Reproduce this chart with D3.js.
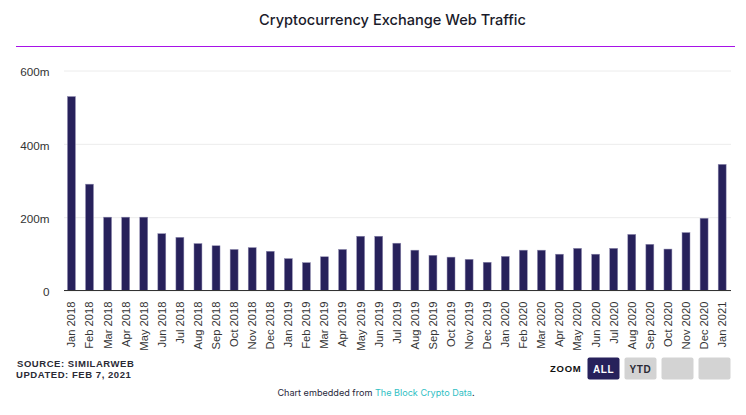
<!DOCTYPE html>
<html>
<head>
<meta charset="utf-8">
<script src="https://cdn.jsdelivr.net/npm/d3@7"></script>
<style>
  html, body { margin: 0; padding: 0; background: #fff; }
  svg { display: block; }
  text { font-family: "Liberation Sans", Arial, sans-serif; }
</style>
</head>
<body>
<div id="chart"></div>
<script>
// values, in millions of visits
var months = [
  "Jan 2018", "Feb 2018", "Mar 2018", "Apr 2018", "May 2018", "Jun 2018", "Jul 2018", "Aug 2018",
  "Sep 2018", "Oct 2018", "Nov 2018", "Dec 2018", "Jan 2019", "Feb 2019", "Mar 2019", "Apr 2019",
  "May 2019", "Jun 2019", "Jul 2019", "Aug 2019", "Sep 2019", "Oct 2019", "Nov 2019", "Dec 2019",
  "Jan 2020", "Feb 2020", "Mar 2020", "Apr 2020", "May 2020", "Jun 2020", "Jul 2020", "Aug 2020",
  "Sep 2020", "Oct 2020", "Nov 2020", "Dec 2020", "Jan 2021"
];
var traffic = [
  529, 290, 200, 200, 200, 155, 145, 128,
  122, 112, 117, 107, 87, 76, 92, 112,
  148, 148, 129, 110, 96, 91, 85, 77,
  93, 110, 110, 99, 115, 99, 115, 153,
  126, 113, 158, 197, 344
];
var yTicks = [0, 200, 400, 600];
var zoomButtons = ["ALL", "YTD", "", ""];

var width = 746, height = 415;
var plotLeft = 64, plotRight = 731, plotTop = 70.5, plotBottom = 290.5;

var svg = d3.select("#chart").append("svg")
    .attr("width", width)
    .attr("height", height);

svg.append("text")
    .attr("x", 392.5)
    .attr("y", 25)
    .attr("text-anchor", "middle")
    .style("font-family", "Inter")
    .style("font-size", "14.6px")
    .style("font-weight", "450")
    .style("fill", "#1a1a2a")
    .text("Cryptocurrency Exchange Web Traffic");

svg.append("line")
    .attr("x1", 16).attr("x2", 735)
    .attr("y1", 46.5).attr("y2", 46.5)
    .attr("stroke", "#a712e8")
    .attr("stroke-width", 1);

var x = d3.scaleBand()
    .domain(months)
    .range([plotLeft - 1.6, plotRight + 0.2])
    .paddingInner(0.56)
    .paddingOuter(0.28);

var y = d3.scaleLinear()
    .domain([0, 600])
    .range([plotBottom, plotTop]);

// y axis with the gridlines as long ticks
var yAxis = d3.axisLeft(y)
    .tickValues(yTicks)
    .tickSize(plotRight - plotLeft)
    .tickFormat(function (d) { return d === 0 ? "0" : d + "m"; });

var gy = svg.append("g")
    .attr("transform", "translate(" + plotRight + ",0)")
    .call(yAxis);
gy.select(".domain").remove();
gy.selectAll("line").attr("stroke", "#ececec");
gy.selectAll("text")
    .attr("x", -(plotRight - 49.5))
    .attr("dy", "0.45em")
    .style("font-size", "11.7px")
    .style("fill", "#333");

svg.selectAll(".bar")
    .data(traffic)
    .enter()
    .append("rect")
    .attr("class", "bar")
    .attr("x", function (d, i) { return x(months[i]); })
    .attr("y", function (d) { return y(d); })
    .attr("width", x.bandwidth())
    .attr("height", function (d) { return y(0) - y(d); })
    .attr("fill", "#27215b")
    .attr("stroke", "#8f8bb0")
    .attr("stroke-width", 0.5);

// x axis
var xAxis = d3.axisBottom(x).tickSize(0).tickPadding(0);
var gx = svg.append("g")
    .attr("transform", "translate(0," + plotBottom + ")")
    .call(xAxis);
gx.select(".domain")
    .attr("d", "M" + plotLeft + ",0H" + plotRight)
    .attr("stroke", "#333")
    .attr("stroke-width", 1);
gx.selectAll("text")
    .attr("transform", "rotate(-90)")
    .attr("x", -11)
    .attr("y", 0)
    .attr("dy", "0.35em")
    .attr("text-anchor", "end")
    .style("font-size", "11.2px")
    .style("fill", "#333");

// footer notes
var notes = svg.append("g")
    .style("font-size", "9.5px")
    .style("font-weight", "bold")
    .style("letter-spacing", "0.55px")
    .style("fill", "#2a2a35");
notes.append("text").attr("x", 17).attr("y", 367).text("SOURCE: SIMILARWEB");
notes.append("text").attr("x", 16).attr("y", 378).text("UPDATED: FEB 7, 2021");

svg.append("text")
    .attr("x", 550).attr("y", 372)
    .style("font-size", "9.5px")
    .style("font-weight", "bold")
    .style("letter-spacing", "0.75px")
    .style("fill", "#111")
    .text("ZOOM");

// range selector buttons
var btn = svg.selectAll(".btn")
    .data(zoomButtons)
    .enter()
    .append("g")
    .attr("class", "btn")
    .attr("transform", function (d, i) { return "translate(" + (587.5 + i * 37) + ",357.5)"; });
btn.append("rect")
    .attr("width", 32)
    .attr("height", 22)
    .attr("rx", 2)
    .attr("fill", function (d, i) { return i === 0 ? "#27215b" : "#d3d3d3"; });
btn.append("text")
    .attr("x", 16)
    .attr("y", 15)
    .attr("text-anchor", "middle")
    .style("font-size", "10px")
    .style("font-weight", "bold")
    .style("letter-spacing", "0.6px")
    .style("fill", function (d, i) { return i === 0 ? "#fff" : "#2a2a35"; })
    .text(function (d) { return d; });

// embed line
var embed = svg.append("text")
    .attr("x", 376)
    .attr("y", 396)
    .attr("text-anchor", "middle")
    .style("font-family", "Inter")
    .style("font-size", "9.1px")
    .style("fill", "#27273a");
embed.append("tspan").text("Chart embedded from ");
embed.append("tspan").style("fill", "#2fc0c4").text("The Block Crypto Data");
embed.append("tspan").text(".");
</script>
</body>
</html>
